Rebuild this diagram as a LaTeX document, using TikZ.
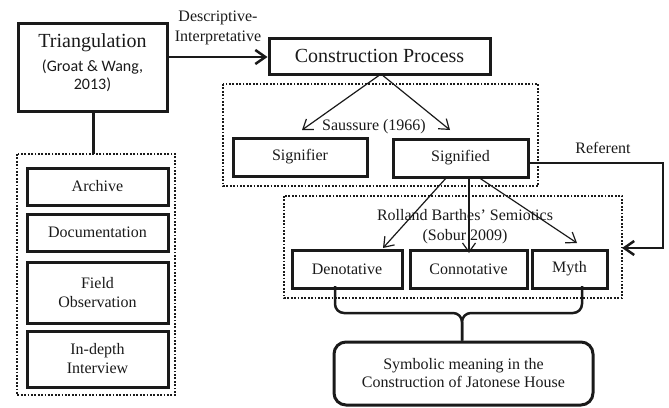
\documentclass[tikz,border=0pt]{standalone}
\usepackage{fontspec}
\setmainfont{Liberation Serif}
\newfontfamily\calfont{Carlito}
\usetikzlibrary{arrows.meta}
\definecolor{ink}{HTML}{1A1A1A}
\tikzset{
  box/.style={draw=ink, line width=3pt, text=ink, align=center, inner sep=1pt,
    font=\fontsize{16}{19}\selectfont},
  dotbox/.style={draw=ink, line width=1.8pt, dash pattern=on 1.8pt off 1.6pt},
  thinarrow/.style={draw=ink, line width=1.2pt, -{Straight Barb[length=9pt,width=13pt,line width=1.2pt]}},
  thickarrow/.style={draw=ink, line width=2.5pt, -{Straight Barb[length=10pt,width=14pt,line width=2.5pt]}},
  lbl/.style={text=ink, align=center, inner sep=0pt, font=\fontsize{16}{20}\selectfont},
  bracepath/.style={draw=ink, line width=2.5pt, rounded corners=9pt},
}
\begin{document}
\begin{tikzpicture}[x=1pt,y=-1pt]
\useasboundingbox (0,0) rectangle (669,407);
% dotted groups
\draw[dotbox] (17,154) rectangle (175,395);
\draw[dotbox] (223,84) rectangle (538,186);
\draw[dotbox] (284,196) rectangle (622,298);
% main boxes
\node[box, minimum width=149pt, minimum height=88pt] (tri) at (92.5,67) {};
\node[text=ink, inner sep=0pt, font=\fontsize{20}{22}\selectfont] (tritxt) at (92.5,43) {Triangulation};
\node[text=ink, inner sep=0pt, align=center, font=\calfont\fontsize{16}{18}\selectfont] (cite) at (92.5,76) {(Groat \& Wang,\\2013)};
\node[box, minimum width=221pt, minimum height=36pt, font=\fontsize{20}{22}\selectfont] (cp) at (379.5,56) {Construction Process};
\node[box, minimum width=134pt, minimum height=38pt] (sr) at (300,157) {Signifier};
\node[box, minimum width=135pt, minimum height=38pt] (sd) at (460.5,158) {Signified};
\node[box, minimum width=141pt, minimum height=37pt] (arc) at (97.5,186.5) {Archive};
\node[box, minimum width=141pt, minimum height=37pt] (doc) at (97.5,232.5) {Documentation};
\node[box, minimum width=141pt, minimum height=61pt] (fo) at (97.5,292.5) {Field\\Observation};
\node[box, minimum width=141pt, minimum height=56pt] (idi) at (97.5,359) {In-depth\\Interview};
\node[box, minimum width=110pt, minimum height=38pt] (den) at (347,269) {Denotative};
\node[box, minimum width=117pt, minimum height=38pt] (con) at (468.5,269) {Connotative};
\node[box, minimum width=75pt, minimum height=38pt] (myth) at (569.5,269) {Myth};
\node[box, rounded corners=12pt, minimum width=259pt, minimum height=63pt, font=\fontsize{16}{18}\selectfont] (sym) at (463.5,373.5) {Symbolic meaning in the\\Construction of Jatonese House};
% labels
\node[lbl] (desc) at (218,28) {Descriptive-\\Interpretative};
\node[lbl] (sau) at (374,127) {Saussure (1966)};
\node[lbl] (rb) at (465,227) {Rolland Barthes' Semiotics\\(Sobur 2009)};
\node[lbl] (ref) at (603,148) {Referent};
% connectors
\coordinate (leftgrp) at (93,154);
\draw[draw=ink, line width=3pt] (tri.south -| leftgrp) -- (leftgrp);
\draw[thickarrow] (tri.east |- 0,57) -- (cp.west |- 0,57);
\coordinate (cpb) at (381,74);
\coordinate (t1) at (302,130);
\coordinate (t2) at (450,130);
\draw[thinarrow] (cpb) -- (t1);
\draw[thinarrow] (cpb) -- (t2);
\coordinate (s1) at (447,177);
\coordinate (s2) at (469,177);
\coordinate (s3) at (478,177);
\coordinate (e1) at (383,248);
\coordinate (e2) at (469,253);
\coordinate (e3) at (577,243);
\draw[thinarrow] (s1) -- (e1);
\draw[thinarrow] (s2) -- (e2);
\draw[thinarrow] (s3) -- (e3);
\coordinate (refstart) at (528,163);
\coordinate (refcorner) at (663,163);
\coordinate (refend) at (622,248);
\draw[thickarrow] (refstart) -- (refcorner) |- (refend);
% brace
\coordinate (bl) at (335,286);
\coordinate (br) at (582,286);
\coordinate (bm) at (462,313);
\draw[bracepath] (bl) |- (bm) -- (sym.north -| bm);
\draw[bracepath] (br) |- (bm) -- (sym.north -| bm);
\end{tikzpicture}
\end{document}
